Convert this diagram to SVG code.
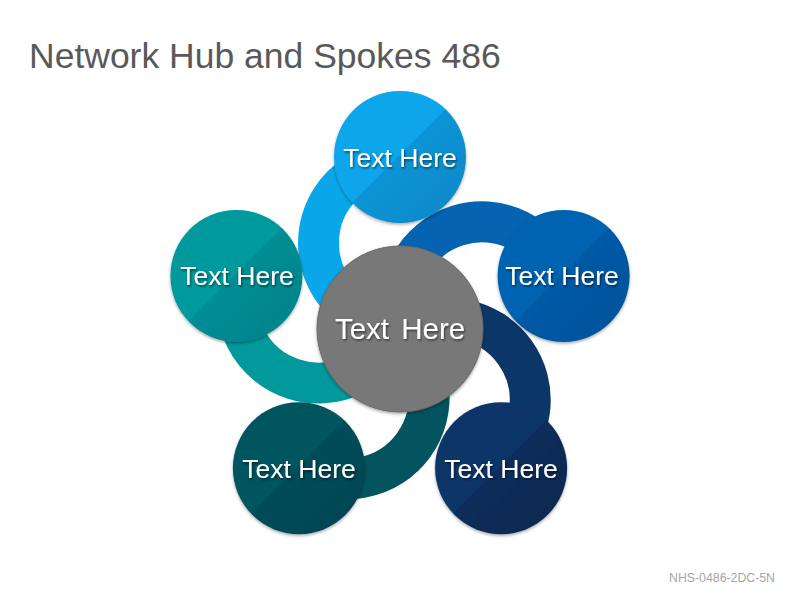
<svg xmlns="http://www.w3.org/2000/svg" width="800" height="600" viewBox="0 0 800 600">
  <defs>
    <linearGradient id="gTop" x1="0" y1="0" x2="1" y2="1">
      <stop offset="0" stop-color="#0AA6EA"/><stop offset="0.49" stop-color="#0AA6EA"/>
      <stop offset="0.49" stop-color="#0A94D6"/><stop offset="1" stop-color="#0986C6"/>
    </linearGradient>
    <linearGradient id="gRight" x1="0" y1="0" x2="1" y2="1">
      <stop offset="0" stop-color="#0563B2"/><stop offset="0.49" stop-color="#0563B2"/>
      <stop offset="0.49" stop-color="#055AA6"/><stop offset="1" stop-color="#04519A"/>
    </linearGradient>
    <linearGradient id="gLeft" x1="0" y1="0" x2="1" y2="1">
      <stop offset="0" stop-color="#01999C"/><stop offset="0.49" stop-color="#01999C"/>
      <stop offset="0.49" stop-color="#018D93"/><stop offset="1" stop-color="#01808A"/>
    </linearGradient>
    <linearGradient id="gBL" x1="0" y1="0" x2="1" y2="1">
      <stop offset="0" stop-color="#03545F"/><stop offset="0.49" stop-color="#03545F"/>
      <stop offset="0.49" stop-color="#034C59"/><stop offset="1" stop-color="#024351"/>
    </linearGradient>
    <linearGradient id="gBR" x1="0" y1="0" x2="1" y2="1">
      <stop offset="0" stop-color="#0B3668"/><stop offset="0.49" stop-color="#0B3668"/>
      <stop offset="0.49" stop-color="#092E5B"/><stop offset="1" stop-color="#07264E"/>
    </linearGradient>
    <filter id="sh" x="-20%" y="-20%" width="140%" height="140%">
      <feDropShadow dx="0" dy="1.5" stdDeviation="1.5" flood-color="#000" flood-opacity="0.35"/>
    </filter>
    <filter id="tsh" x="-10%" y="-30%" width="120%" height="160%">
      <feDropShadow dx="1" dy="1.5" stdDeviation="1" flood-color="#000" flood-opacity="0.55"/>
    </filter>
  </defs>
  <style>
    .ring { fill: none; stroke-width: 41; stroke-linecap: butt; }
    .lbl { font-family: "Liberation Sans", Arial, sans-serif; font-size: 26.5px; fill: #FFFFFF; text-anchor: middle; filter: url(#tsh); }
    .hubl { font-size: 29.5px; word-spacing: 4px; }
    .title { font-family: "Liberation Sans", Arial, sans-serif; font-size: 35.5px; fill: #595959; }
    .foot { font-family: "Liberation Sans", Arial, sans-serif; font-size: 12.3px; fill: #A6A6A6; text-anchor: end; }
  </style>
  <rect width="800" height="600" fill="#FFFFFF"/>
  <text class="title" x="29" y="68">Network Hub and Spokes 486</text>
  <text class="foot" x="775" y="582">NHS-0486-2DC-5N</text>

  <g id="connectors">
    <path class="ring" stroke="#0AA6EA" d="M400,161.5 A81.5,81.5 0 0 0 400,324.5"/>
    <path class="ring" stroke="#0563B2" d="M559.3,277.2 A81.5,81.5 0 0 0 404.3,327.6"/>
    <path class="ring" stroke="#0B3668" d="M498.45,464.5 A81.5,81.5 0 0 0 402.65,332.7"/>
    <path class="ring" stroke="#03545F" d="M301.55,464.5 A81.5,81.5 0 0 0 397.35,332.7"/>
    <path class="ring" stroke="#01999C" d="M240.7,277.2 A81.5,81.5 0 0 0 395.7,327.6"/>
  </g>

  <g id="node-top">
    <circle cx="400" cy="157" r="66" fill="url(#gTop)" filter="url(#sh)"/>
    <text class="lbl" x="400" y="167">Text Here</text>
  </g>
  <g id="node-right">
    <circle cx="563.6" cy="275.9" r="66" fill="url(#gRight)" filter="url(#sh)"/>
    <text class="lbl" x="562" y="285">Text Here</text>
  </g>
  <g id="node-bottom-right">
    <circle cx="501.1" cy="468.2" r="66" fill="url(#gBR)" filter="url(#sh)"/>
    <text class="lbl" x="501" y="478">Text Here</text>
  </g>
  <g id="node-bottom-left">
    <circle cx="298.9" cy="468.2" r="66" fill="url(#gBL)" filter="url(#sh)"/>
    <text class="lbl" x="299" y="478">Text Here</text>
  </g>
  <g id="node-left">
    <circle cx="236.4" cy="275.9" r="66" fill="url(#gLeft)" filter="url(#sh)"/>
    <text class="lbl" x="237" y="285">Text Here</text>
  </g>
  <g id="node-hub">
    <circle cx="400" cy="329" r="83" fill="#787878" stroke="#6A6A6A" stroke-width="1" filter="url(#sh)"/>
    <text class="lbl hubl" x="400" y="339">Text Here</text>
  </g>
</svg>
